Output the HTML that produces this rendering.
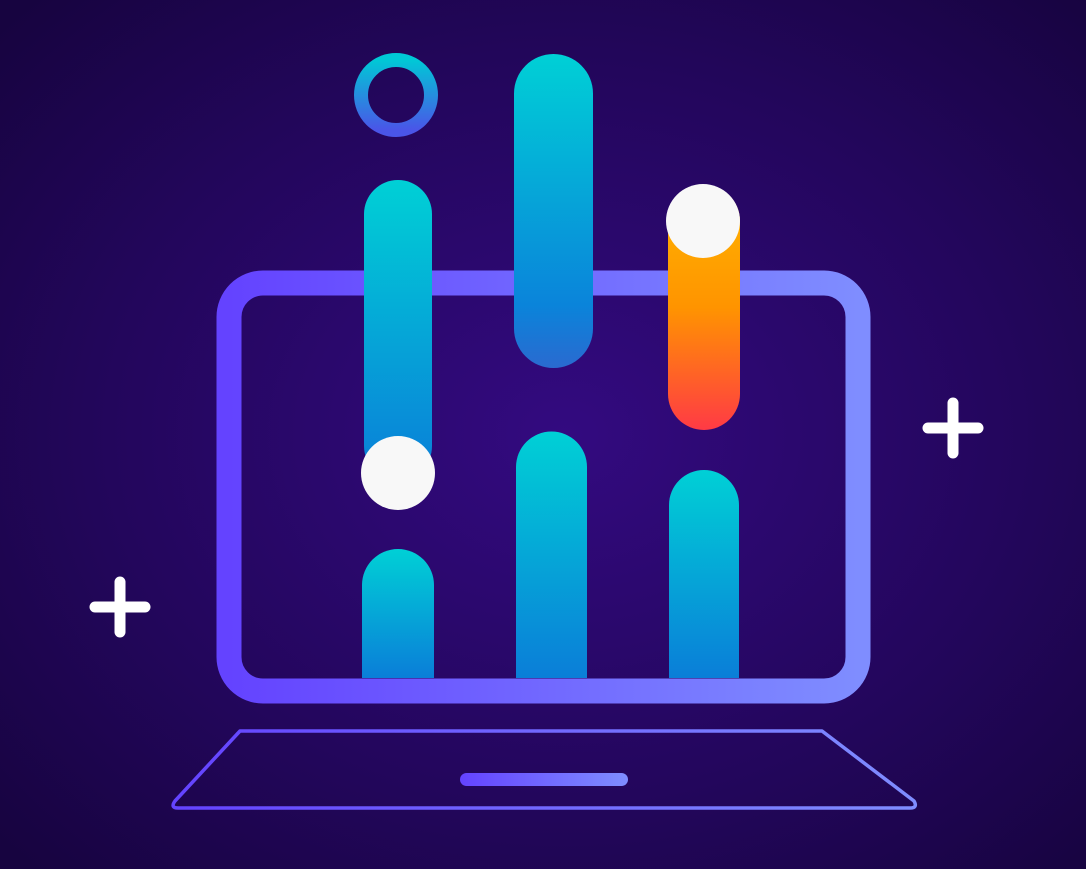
<!DOCTYPE html>
<html><head><style>html,body{margin:0;padding:0;background:#1c0550;}svg{display:block}</style></head>
<body>
<svg width="1086" height="869" viewBox="0 0 1086 869" xmlns="http://www.w3.org/2000/svg">
<defs>
<radialGradient id="bg" cx="0.52" cy="0.5" r="0.7">
<stop offset="0" stop-color="#330a80"/><stop offset="0.6" stop-color="#23065c"/><stop offset="1" stop-color="#170440"/>
</radialGradient>
<linearGradient id="frame" x1="0" y1="0" x2="1" y2="0">
<stop offset="0" stop-color="#6443ff"/><stop offset="1" stop-color="#7f8dff"/>
</linearGradient>
<linearGradient id="cy" x1="0" y1="0" x2="0" y2="1">
<stop offset="0" stop-color="#00d0d6"/><stop offset="1" stop-color="#0a7ed8"/>
</linearGradient>
<linearGradient id="cy2" x1="0" y1="0" x2="0" y2="1">
<stop offset="0" stop-color="#00d0d6"/><stop offset="0.8" stop-color="#0a84da"/><stop offset="1" stop-color="#2a6ad0"/>
</linearGradient>
<linearGradient id="or" x1="0" y1="0" x2="0" y2="1">
<stop offset="0" stop-color="#ffb600"/><stop offset="0.5" stop-color="#ff9400"/><stop offset="1" stop-color="#ff3a45"/>
</linearGradient>
<linearGradient id="ring" x1="0" y1="0" x2="0" y2="1">
<stop offset="0" stop-color="#00c8d6"/><stop offset="1" stop-color="#4a55e8"/>
</linearGradient>
</defs>
<rect width="1086" height="869" fill="url(#bg)"/>
<!-- laptop frame -->
<rect x="229" y="283" width="629" height="408" rx="34" fill="none" stroke="url(#frame)" stroke-width="25"/>
<!-- base -->
<path d="M240 731 L822 731 L914 801 Q918 808 910 808 L178 808 Q170 808 175 801 Z" fill="none" stroke="url(#frame)" stroke-width="3.5" stroke-linejoin="round"/>
<rect x="460" y="773" width="168" height="13" rx="6.5" fill="url(#frame)"/>
<!-- ring -->
<circle cx="396" cy="95" r="35" fill="none" stroke="url(#ring)" stroke-width="14"/>
<!-- bar 1 -->
<rect x="364" y="180" width="68" height="300" rx="34" fill="url(#cy)"/>
<circle cx="398" cy="473" r="37" fill="#f8f8f8"/>
<path d="M362 678 L362 585 A36 36 0 0 1 434 585 L434 678 Z" fill="url(#cy)"/>
<!-- bar 2 -->
<rect x="514" y="54" width="79" height="314" rx="39.5" fill="url(#cy2)"/>
<path d="M516 678 L516 467 A35.5 35.5 0 0 1 587 467 L587 678 Z" fill="url(#cy)"/>
<!-- bar 3 -->
<rect x="668" y="185" width="72" height="245" rx="36" fill="url(#or)"/>
<circle cx="703" cy="221" r="37" fill="#f8f8f8"/>
<path d="M669 678 L669 505 A35 35 0 0 1 739 505 L739 678 Z" fill="url(#cy)"/>
<!-- plus signs -->
<g stroke="#ffffff" stroke-width="11" stroke-linecap="round">
<line x1="928" y1="428" x2="978" y2="428"/><line x1="953" y1="403" x2="953" y2="453"/>
<line x1="95" y1="607" x2="145" y2="607"/><line x1="120" y1="582" x2="120" y2="632"/>
</g>
</svg>
</body></html>
